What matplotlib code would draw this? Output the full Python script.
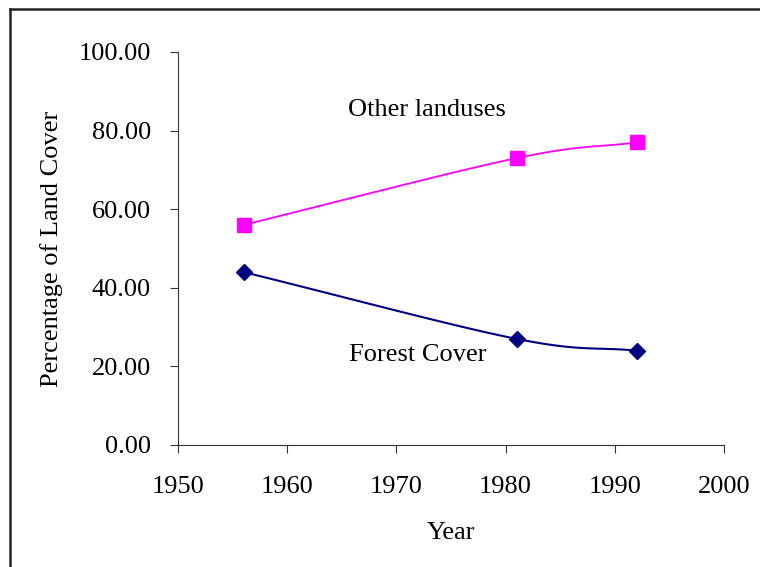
import numpy as np
import matplotlib.pyplot as plt
from matplotlib.lines import Line2D

plt.rcParams['font.family'] = ['Liberation Serif', 'DejaVu Serif']

years = [1956, 1981, 1992]
forest = [44.0, 27.0, 24.0]
other = [56.0, 73.0, 77.0]


def smooth(x, y, n=40):
    # catmull-rom curve through the points, like a spreadsheet "smoothed line"
    x = np.asarray(x, float)
    y = np.asarray(y, float)
    px = np.concatenate([[2 * x[0] - x[1]], x, [2 * x[-1] - x[-2]]])
    py = np.concatenate([[2 * y[0] - y[1]], y, [2 * y[-1] - y[-2]]])
    xs, ys = [], []
    t = np.linspace(0, 1, n)
    for i in range(1, len(px) - 2):
        for p, out in ((px, xs), (py, ys)):
            p0, p1, p2, p3 = p[i - 1], p[i], p[i + 1], p[i + 2]
            out.extend(0.5 * (2 * p1 + (-p0 + p2) * t
                              + (2 * p0 - 5 * p1 + 4 * p2 - p3) * t ** 2
                              + (-p0 + 3 * p1 - 3 * p2 + p3) * t ** 3))
    return xs, ys


fig = plt.figure(figsize=(7.6, 5.67), dpi=100)
ax = fig.add_axes([0.2342, 0.2152, 0.7184, 0.6931])

sx, sy = smooth(years, other)
ax.plot(sx, sy, color='#ff00ff', lw=1.3)
ax.plot(years, other, 's', color='#ff00ff', ms=9.5)

sx, sy = smooth(years, forest)
ax.plot(sx, sy, color='#000080', lw=1.5)
ax.plot(years, forest, 'D', color='#000080', ms=8)

ax.set_xlim(1950, 2000)
ax.set_ylim(0, 100)
ax.set_xticks(range(1950, 2001, 10))
ax.set_yticks(range(0, 101, 20))
ax.set_yticklabels([f'{v:.2f}' for v in range(0, 101, 20)])
for s in ('top', 'right'):
    ax.spines[s].set_visible(False)
for s in ('left', 'bottom'):
    ax.spines[s].set_color('#333333')
ax.tick_params(labelsize=19, color='#333333', length=6)
ax.tick_params(axis='y', pad=13.5)
ax.tick_params(axis='x', pad=16.5)

ax.set_xlabel('Year', fontsize=19, labelpad=17)
ax.set_ylabel('Percentage of Land Cover', fontsize=19, labelpad=11)

ax.text(1972.8, 85.2, 'Other landuses', fontsize=19, ha='center', va='center')
ax.text(1972.0, 23.0, 'Forest Cover', fontsize=19, ha='center', va='center')

# frame edges
fig.add_artist(Line2D([0.0125, 1.0], [0.984, 0.984], color='#222222', lw=1.8))
fig.add_artist(Line2D([0.0125, 0.0125], [0.0, 0.984], color='#222222', lw=1.8))

fig.savefig('out.png', dpi=100)
